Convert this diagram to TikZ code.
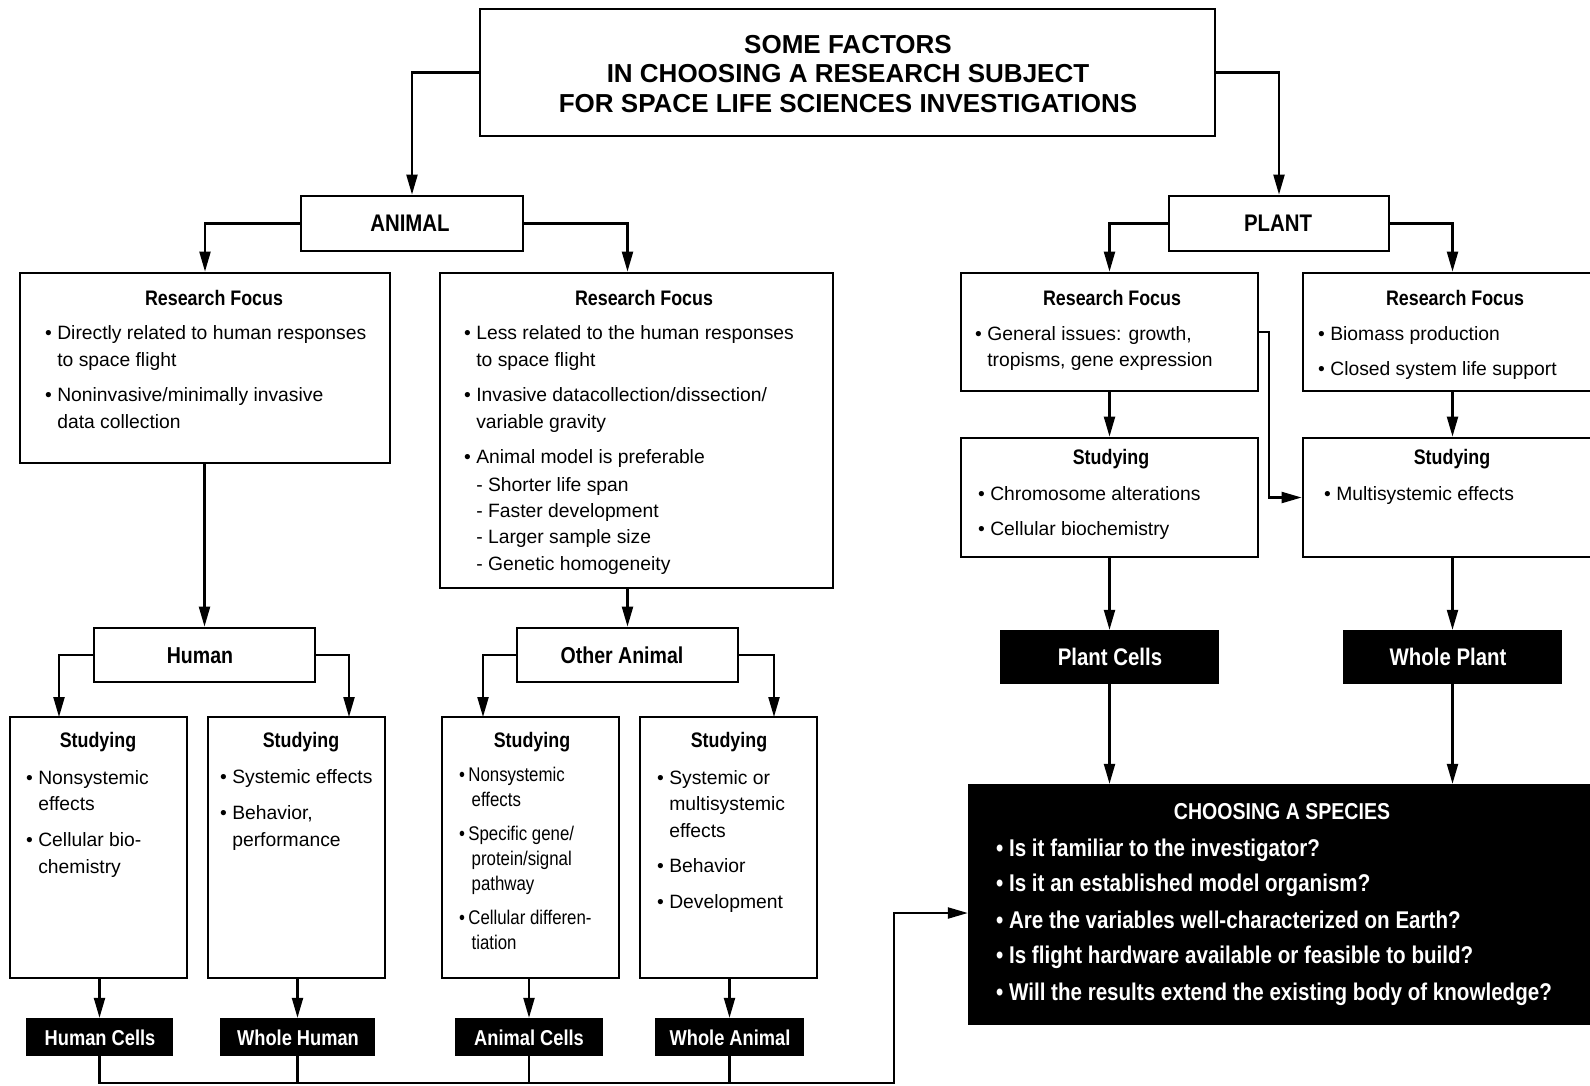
\documentclass[tikz,border=0pt]{standalone}
\usepackage{fontspec}
\setmainfont{Liberation Sans}
\newfontfamily\cnd[FakeStretch=0.85]{Liberation Sans}
\usetikzlibrary{arrows.meta}
\newcounter{tl}
\newcommand\fB{\fontsize{19.3}{26}\selectfont}
\newcommand\fBc{\cnd\fontsize{19.8}{25}\selectfont}
\newcommand\fH{\cnd\bfseries\fontsize{21}{24}\selectfont}
\newcommand\fT{\bfseries\fontsize{26}{29}\selectfont}
\newcommand\fM{\cnd\bfseries\fontsize{24}{26}\selectfont}
\newcommand\fQ{\cnd\bfseries\fontsize{23}{26}\selectfont}
\newcommand\fQb{\cnd\bfseries\fontsize{24.2}{26}\selectfont}
\newcommand\fS{\cnd\bfseries\fontsize{21.5}{24}\selectfont}
\newcommand\ind{\hphantom{•\ }}
\newcommand\T[4][]{\stepcounter{tl}\node[tx,#1] (t\the\value{tl}) at (#2,#3) {#4};}
\newcommand\Hd[4][]{\stepcounter{tl}\node[hd,#1] (t\the\value{tl}) at (#2,#3) {#4};}
\begin{document}
\begin{tikzpicture}[x=1pt,y=-1pt,
  bx/.style={draw=black, line width=2.8pt, inner sep=0pt, fill=white},
  blk/.style={fill=black, draw=none, inner sep=0pt},
  arr/.style={line width=2.2pt, -{Triangle[length=20pt,width=11pt]}},
  ln/.style={line width=2.2pt},
  tx/.style={anchor=base west, inner sep=0pt, font=\fB},
  hd/.style={anchor=base, inner sep=0pt, font=\fH},
  wt/.style={text=white},
]
\useasboundingbox (0,0) rectangle (1590,1085);
\clip (0,0) rectangle (1590,1085);
\fill[white] (0,0) rectangle (1590,1085);

% ---------- boxes ----------
\node[bx, minimum width=735pt, minimum height=127pt] (top) at (847.5,72.5) {};
\node[bx, minimum width=222pt, minimum height=55pt] (animal) at (412,223.5) {};
\node[bx, minimum width=220pt, minimum height=55pt] (plant) at (1279,223.5) {};
\node[bx, minimum width=370pt, minimum height=190pt] (arf) at (205,368) {};
\node[bx, minimum width=393pt, minimum height=315pt] (orf) at (636.5,430.5) {};
\node[bx, minimum width=297pt, minimum height=118pt] (prf1) at (1109.5,332) {};
\node[bx, minimum width=317pt, minimum height=118pt] (prf2) at (1461.5,332) {};
\node[bx, minimum width=297pt, minimum height=119pt] (ps1) at (1109.5,497.5) {};
\node[bx, minimum width=317pt, minimum height=119pt] (ps2) at (1461.5,497.5) {};
\node[blk, minimum width=219pt, minimum height=54pt] (plantcells) at (1109.5,657) {};
\node[blk, minimum width=219pt, minimum height=54pt] (wholeplant) at (1452.5,657) {};
\node[blk, minimum width=642pt, minimum height=241pt] (choosing) at (1289,904.5) {};
\node[bx, minimum width=221pt, minimum height=54pt] (human) at (204.5,655) {};
\node[bx, minimum width=221pt, minimum height=54pt] (other) at (627.5,655) {};
\node[bx, minimum width=177pt, minimum height=261pt] (hs1) at (98.5,847.5) {};
\node[bx, minimum width=177pt, minimum height=261pt] (hs2) at (296.5,847.5) {};
\node[bx, minimum width=177pt, minimum height=261pt] (os1) at (530.5,847.5) {};
\node[bx, minimum width=177pt, minimum height=261pt] (os2) at (728.5,847.5) {};
\node[blk, minimum width=147pt, minimum height=38pt] (humancells) at (99.5,1037) {};
\node[blk, minimum width=155pt, minimum height=38pt] (wholehuman) at (297.5,1037) {};
\node[blk, minimum width=148pt, minimum height=38pt] (animalcells) at (529,1037) {};
\node[blk, minimum width=149pt, minimum height=38pt] (wholeanimal) at (729.5,1037) {};

% ---------- helper coordinates ----------
\coordinate (bend) at (1269,332);
\coordinate (h1) at (59,717);
\coordinate (h2) at (349,717);
\coordinate (o1) at (483,717);
\coordinate (o2) at (774,717);
\coordinate (busR) at (894,1083);
\coordinate (busU) at (894,913);

% ---------- connectors ----------
\draw[arr] (top.west) -| (animal.north);
\draw[arr] (top.east) -| (plant.north);
\draw[arr] (animal.west) -| (arf.north);
\draw[arr] (animal.east) -| (other |- orf.north);
\draw[arr] (plant.west) -| (prf1.north);
\draw[arr] (plant.east) -| (wholeplant |- prf2.north);
\draw[arr] (prf1.south) -- (ps1.north);
\draw[arr] (wholeplant |- prf2.south) -- (wholeplant |- ps2.north);
\draw[arr] (prf1.east) -- (bend) |- (ps2.west);
\draw[arr] (ps1.south) -- (plantcells.north);
\draw[arr] (wholeplant |- ps2.south) -- (wholeplant.north);
\draw[arr] (plantcells.south) -- (plantcells |- choosing.north);
\draw[arr] (wholeplant.south) -- (wholeplant |- choosing.north);
\draw[arr] (human |- arf.south) -- (human.north);
\draw[arr] (other |- orf.south) -- (other.north);
\draw[arr] (human.west) -| (h1);
\draw[arr] (human.east) -| (h2);
\draw[arr] (other.west) -| (o1);
\draw[arr] (other.east) -| (o2);
\draw[arr] (humancells |- hs1.south) -- (humancells.north);
\draw[arr] (wholehuman |- hs2.south) -- (wholehuman.north);
\draw[arr] (animalcells |- os1.south) -- (animalcells.north);
\draw[arr] (wholeanimal |- os2.south) -- (wholeanimal.north);
\draw[ln] (wholehuman.south) -- (wholehuman |- busR);
\draw[ln] (animalcells.south) -- (animalcells |- busR);
\draw[ln] (wholeanimal.south) -- (wholeanimal |- busR);
\draw[arr] (humancells.south) |- (busR) -- (busU) -- (choosing.west |- busU);

% ---------- title ----------
\node[anchor=base, inner sep=0pt, font=\fT] (ti1) at (848,53) {SOME FACTORS};
\node[anchor=base, inner sep=0pt, font=\fT] (ti2) at (848,82.5) {IN CHOOSING A RESEARCH SUBJECT};
\node[anchor=base, inner sep=0pt, font=\fT] (ti3) at (848,112) {FOR SPACE LIFE SCIENCES INVESTIGATIONS};

\node[anchor=base, inner sep=0pt, font=\fM] (la) at (410,231.5) {ANIMAL};
\node[anchor=base, inner sep=0pt, font=\fM] (lp) at (1278,231.5) {PLANT};
\node[anchor=base, inner sep=0pt, font=\fQ] (lh) at (200,663) {Human};
\node[anchor=base, inner sep=0pt, font=\fQ] (lo) at (622,663) {Other Animal};
\node[anchor=base, inner sep=0pt, font=\fM, text=white] (lpc) at (1110,665) {Plant Cells};
\node[anchor=base, inner sep=0pt, font=\fM, text=white] (lwp) at (1448,665) {Whole Plant};
\node[anchor=base, inner sep=0pt, font=\fS, text=white] (lhc) at (100,1045) {Human Cells};
\node[anchor=base, inner sep=0pt, font=\fS, text=white] (lwh) at (298,1045) {Whole Human};
\node[anchor=base, inner sep=0pt, font=\fS, text=white] (lac) at (529,1045) {Animal Cells};
\node[anchor=base, inner sep=0pt, font=\fS, text=white] (lwa) at (730,1045) {Whole Animal};

% ---------- headings ----------
\Hd{214}{305.5}{Research Focus}
\Hd{644}{305.5}{Research Focus}
\Hd{1112}{305.5}{Research Focus}
\Hd{1455}{305.5}{Research Focus}
\Hd{1111}{464}{Studying}
\Hd{1452}{464}{Studying}
\Hd{98}{747}{Studying}
\Hd{301}{747}{Studying}
\Hd{532}{747}{Studying}
\Hd{729}{747}{Studying}

% animal left RF
\T{45}{339}{• Directly related to human responses}
\T{45}{366}{\ind to space flight}
\T{45}{401}{• Noninvasive/minimally invasive}
\T{45}{428}{\ind data collection}
% animal right RF
\T{464}{339}{• Less related to the human responses}
\T{464}{366}{\ind to space flight}
\T{464}{401}{• Invasive datacollection/dissection/}
\T{464}{428}{\ind variable gravity}
\T{464}{463}{• Animal model is preferable}
\T{464}{491}{\ind - Shorter life span}
\T{464}{517}{\ind - Faster development}
\T{464}{543}{\ind - Larger sample size}
\T{464}{570}{\ind - Genetic homogeneity}
% plant RFs
\T{975}{340}{• General issues: growth,}
\T{975}{366}{\ind tropisms, gene expression}
\T{1318}{340}{• Biomass production}
\T{1318}{375}{• Closed system life support}
% plant studying
\T{978}{500}{• Chromosome alterations}
\T{978}{535}{• Cellular biochemistry}
\T{1324}{500}{• Multisystemic effects}
% human studying
\T{26}{784}{• Nonsystemic}
\T{26}{810}{\ind effects}
\T{26}{846}{• Cellular bio-}
\T{26}{873}{\ind chemistry}
\T{220}{783}{• Systemic effects}
\T{220}{819}{• Behavior,}
\T{220}{846}{\ind performance}
% other animal studying
\T[font=\fBc]{459}{781}{•\,Nonsystemic}
\T[font=\fBc]{459}{806}{\hphantom{•\,}\,effects}
\T[font=\fBc]{459}{840}{•\,Specific gene/}
\T[font=\fBc]{459}{865}{\hphantom{•\,}\,protein/signal}
\T[font=\fBc]{459}{890}{\hphantom{•\,}\,pathway}
\T[font=\fBc]{459}{924}{•\,Cellular differen-}
\T[font=\fBc]{459}{949}{\hphantom{•\,}\,tiation}
\T{657}{784}{• Systemic or}
\T{657}{810}{\ind multisystemic}
\T{657}{837}{\ind effects}
\T{657}{872}{• Behavior}
\T{657}{908}{• Development}

% choosing a species
\node[anchor=base, inner sep=0pt, font=\fQ, text=white] (lcs) at (1282,819) {CHOOSING A SPECIES};
\T[font=\fQb,wt]{996}{856}{• Is it familiar to the investigator?}
\T[font=\fQb,wt]{996}{891}{• Is it an established model organism?}
\T[font=\fQb,wt]{996}{928}{• Are the variables well-characterized on Earth?}
\T[font=\fQb,wt]{996}{963}{• Is flight hardware available or feasible to build?}
\T[font=\fQb,wt]{996}{1000}{• Will the results extend the existing body of knowledge?}
\end{tikzpicture}
\end{document}
